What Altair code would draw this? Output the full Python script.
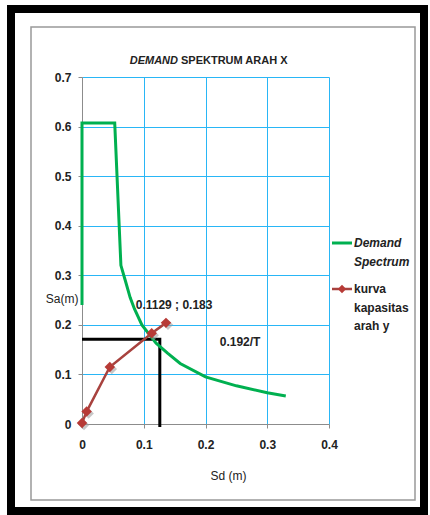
import altair as alt
import pandas as pd

# Demand spectrum (Sd, Sa) in metres
demand_sd = [0.0, 0.0, 0.053, 0.063, 0.07, 0.078, 0.085, 0.097, 0.12, 0.139, 0.159, 0.20, 0.25, 0.30, 0.33]
demand_sa = [0.24, 0.607, 0.607, 0.32, 0.29, 0.255, 0.232, 0.20, 0.163, 0.1425, 0.122, 0.095, 0.077, 0.063, 0.0565]

# Capacity curve, direction y
cap_sd = [0.0, 0.0075, 0.045, 0.1129, 0.136]
cap_sa = [0.002, 0.025, 0.115, 0.183, 0.204]

# Guide lines to the performance point
guide_sd = [0.0, 0.126, 0.126]
guide_sa = [0.171, 0.171, -0.006]

perf_label = "0.1129 ; 0.183"
curve_label = "0.192/T"
legend_demand = ["Demand", "Spectrum"]
legend_capacity = ["kurva", "kapasitas", "arah y"]

GREEN = "#00B050"
RED_LINE = "#A8423E"
RED_PT = "#B73A36"
GRID = "#29B6F6"
AXIS_GREY = "#8C8C8C"
FONT = "Liberation Sans"

demand_df = pd.DataFrame({"sd": demand_sd, "sa": demand_sa, "i": range(len(demand_sd))})
cap_df = pd.DataFrame({"sd": cap_sd, "sa": cap_sa, "i": range(len(cap_sd))})
guide_df = pd.DataFrame({"sd": guide_sd, "sa": guide_sa, "i": range(len(guide_sd))})

xs = alt.Scale(domain=[0, 0.4], nice=False, zero=False)
ys = alt.Scale(domain=[0, 0.7], nice=False, zero=False)

x_enc = alt.X(
    "sd:Q", scale=xs,
    axis=alt.Axis(
        values=[0, 0.1, 0.2, 0.3, 0.4],
        labelExpr="datum.value == 0 ? '0' : format(datum.value, '.1f')",
        labelFlush=False,
        title="Sd (m)", titleX=146, titleY=51, titleAlign="center",
        titleBaseline="middle", titleFontSize=12, titleFontWeight="normal",
        titleColor="#222", titleFont=FONT,
        labelFont=FONT, labelFontSize=12, labelFontWeight="bold", labelColor="#222",
        labelPadding=11,
        domainColor=AXIS_GREY, tickColor=AXIS_GREY, tickSize=4,
        gridColor=GRID, gridWidth=1,
    ),
)
y_enc = alt.Y(
    "sa:Q", scale=ys,
    axis=alt.Axis(
        values=[0, 0.1, 0.2, 0.3, 0.4, 0.5, 0.6, 0.7],
        labelExpr="datum.value == 0 ? '0' : format(datum.value, '.1f')",
        labelFlush=False,
        title="Sa(m)", titleAngle=0, titleX=-4, titleY=221, titleAlign="right",
        titleBaseline="middle", titleFontSize=12, titleFontWeight="normal",
        titleColor="#222", titleFont=FONT,
        labelFont=FONT, labelFontSize=12, labelFontWeight="bold", labelColor="#222",
        labelPadding=7,
        domainColor=AXIS_GREY, tickColor=AXIS_GREY, tickSize=4,
        gridColor=GRID, gridWidth=1,
    ),
)

base_axes = alt.Chart(demand_df).mark_line(opacity=0).encode(x=x_enc, y=y_enc)

guide = alt.Chart(guide_df).mark_line(color="#000000", strokeWidth=3, clip=False).encode(
    x=alt.X("sd:Q", scale=xs), y=alt.Y("sa:Q", scale=ys), order="i:Q"
)

demand = alt.Chart(demand_df).mark_line(color=GREEN, strokeWidth=3).encode(
    x=alt.X("sd:Q", scale=xs), y=alt.Y("sa:Q", scale=ys), order="i:Q"
)

cap_line = alt.Chart(cap_df).mark_line(color=RED_LINE, strokeWidth=2.5).encode(
    x=alt.X("sd:Q", scale=xs), y=alt.Y("sa:Q", scale=ys), order="i:Q"
)
cap_shadow = alt.Chart(cap_df).mark_point(
    shape="diamond", filled=True, color="#999999", opacity=0.55, size=110,
    xOffset=2, yOffset=2, clip=False,
).encode(x=alt.X("sd:Q", scale=xs), y=alt.Y("sa:Q", scale=ys))
cap_pts = alt.Chart(cap_df).mark_point(
    shape="diamond", filled=True, color=RED_PT, opacity=1, size=110, clip=False,
).encode(x=alt.X("sd:Q", scale=xs), y=alt.Y("sa:Q", scale=ys))

notes_df = pd.DataFrame({"sd": [0.087, 0.223], "sa": [0.24, 0.165], "t": [perf_label, curve_label]})
notes = alt.Chart(notes_df).mark_text(
    align="left", baseline="middle", font=FONT, fontSize=12, fontWeight="bold", color="#222"
).encode(x=alt.X("sd:Q", scale=xs), y=alt.Y("sa:Q", scale=ys), text="t:N")

# Title: italic first word, upright remainder
title_a = alt.Chart(pd.DataFrame({"t": ["DEMAND"]})).mark_text(
    align="right", baseline="middle", font=FONT, fontSize=11, fontWeight="bold",
    fontStyle="italic", color="#222",
).encode(x=alt.value(96), y=alt.value(-16), text="t:N")
title_b = alt.Chart(pd.DataFrame({"t": ["SPEKTRUM ARAH X"]})).mark_text(
    align="left", baseline="middle", font=FONT, fontSize=11, fontWeight="bold", color="#222",
).encode(x=alt.value(99), y=alt.value(-16), text="t:N")

# Legend
leg_green = alt.Chart(pd.DataFrame({"a": [0]})).mark_rule(color=GREEN, strokeWidth=3).encode(
    x=alt.value(250), x2=alt.value(270), y=alt.value(166)
)
leg_red = alt.Chart(pd.DataFrame({"a": [0]})).mark_rule(color=RED_LINE, strokeWidth=2.5).encode(
    x=alt.value(250), x2=alt.value(270), y=alt.value(212)
)
leg_red_pt = alt.Chart(pd.DataFrame({"a": [0]})).mark_point(
    shape="diamond", filled=True, color=RED_PT, opacity=1, size=70
).encode(x=alt.value(260), y=alt.value(212))
leg_demand_txt = alt.Chart(pd.DataFrame({"t": legend_demand, "y": [166, 185]})).mark_text(
    align="left", baseline="middle", font=FONT, fontSize=12, fontWeight="bold",
    fontStyle="italic", color="#222",
).encode(x=alt.value(272), y=alt.Y("y:Q", scale=None), text="t:N")
leg_cap_txt = alt.Chart(pd.DataFrame({"t": legend_capacity, "y": [212, 231, 249]})).mark_text(
    align="left", baseline="middle", font=FONT, fontSize=12, fontWeight="bold", color="#222",
).encode(x=alt.value(272), y=alt.Y("y:Q", scale=None), text="t:N")

# Frames around the chart
inner_frame = alt.Chart(pd.DataFrame({"a": [0]})).mark_rect(
    filled=False, stroke="#999999", strokeWidth=1.5, clip=False
).encode(x=alt.value(-51), x2=alt.value(333), y=alt.value(-50), y2=alt.value(423))
outer_frame = alt.Chart(pd.DataFrame({"a": [0]})).mark_rect(
    filled=False, stroke="#000000", strokeWidth=8, clip=False
).encode(x=alt.value(-71), x2=alt.value(342), y=alt.value(-68), y2=alt.value(434))

chart = alt.layer(
    base_axes, guide, demand, cap_line, cap_shadow, cap_pts, notes,
    title_a, title_b, leg_green, leg_red, leg_red_pt, leg_demand_txt, leg_cap_txt,
    inner_frame, outer_frame,
).properties(
    width=247, height=347,
    autosize=alt.AutoSizeParams(type="none"),
    padding={"left": 82, "top": 77, "right": 101, "bottom": 91},
    background="white",
).configure_view(stroke=None)

chart.save("out.html", embed_options={"renderer": "svg", "actions": False})
